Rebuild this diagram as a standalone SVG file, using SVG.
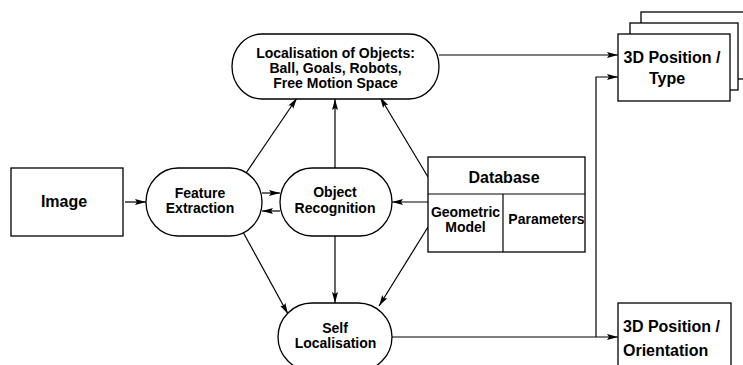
<svg xmlns="http://www.w3.org/2000/svg" width="743" height="365" viewBox="0 0 743 365">
<defs>
<marker id="ah" markerUnits="userSpaceOnUse" markerWidth="12" markerHeight="8" refX="11" refY="3.5" orient="auto">
<path d="M0,0.5 L11,3.5 L0,6.5 L2,3.5 Z" fill="#000"/>
</marker>
<style>
.b{fill:#fff;stroke:#000;stroke-width:1.3}
.c{fill:none;stroke:#000;stroke-width:1.2}
.a{marker-end:url(#ah)}
text{font-family:"Liberation Sans",Arial,sans-serif;font-weight:bold;fill:#000;text-anchor:middle}
.s14{font-size:14px}
.s16{font-size:16px}
</style>
</defs>
<rect width="743" height="365" fill="#fff"/>
<g id="connectors">
<line class="c a" x1="125" y1="202" x2="146" y2="202"/>
<line class="c a" x1="262" y1="193" x2="280" y2="193"/>
<line class="c a" x1="280" y1="211" x2="262" y2="211"/>
<line class="c a" x1="428" y1="202" x2="392" y2="202"/>
<line class="c a" x1="244" y1="176" x2="297" y2="98"/>
<line class="c a" x1="335" y1="168" x2="335" y2="99"/>
<line class="c a" x1="428" y1="177" x2="380" y2="97"/>
<line class="c a" x1="243" y1="232" x2="288" y2="314"/>
<line class="c a" x1="335" y1="236" x2="335" y2="303"/>
<line class="c a" x1="428" y1="227" x2="379" y2="306"/>
<line class="c a" x1="439" y1="55" x2="618" y2="55"/>
<line class="c a" x1="392" y1="337" x2="618" y2="337"/>
<polyline class="c a" points="596,337 596,77 618,77"/>
</g>
<g id="image"><rect class="b" x="11" y="168" width="112" height="68"/><text class="s16" x="64" y="207">Image</text></g>
<g id="feature"><rect class="b" x="146" y="168" width="116" height="68" rx="32" ry="34"/><text class="s14" x="200" y="198">Feature</text><text class="s14" x="200" y="213">Extraction</text></g>
<g id="recognition"><rect class="b" x="280" y="168" width="112" height="68" rx="32" ry="34"/><text class="s14" x="335" y="197">Object</text><text class="s14" x="335" y="213">Recognition</text></g>
<g id="localisation"><rect class="b" x="232" y="34" width="207" height="65" rx="30" ry="32.5"/><text class="s14" x="335.5" y="58">Localisation of Objects:</text><text class="s14" x="335.5" y="73">Ball, Goals, Robots,</text><text class="s14" x="335.5" y="88">Free Motion Space</text></g>
<g id="self"><rect class="b" x="278" y="303" width="114" height="68" rx="34" ry="34"/><text class="s14" x="335" y="333">Self</text><text class="s14" x="335.5" y="348">Localisation</text></g>
<g id="database"><rect class="b" x="428" y="157" width="157" height="95"/><line class="c" x1="428" y1="194" x2="585" y2="194"/><line class="c" x1="503" y1="194" x2="503" y2="252"/><text class="s16" x="504" y="183">Database</text><text class="s14" x="465.5" y="217">Geometric</text><text class="s14" x="465.5" y="232">Model</text><text class="s14" x="546.5" y="224">Parameters</text></g>
<g id="pos-type"><rect class="b" x="641" y="12" width="112" height="67"/><rect class="b" x="630" y="23" width="108" height="67"/><rect class="b" x="618" y="34" width="112" height="67"/><text class="s16" x="672" y="63">3D Position /</text><text class="s16" x="667" y="84">Type</text></g>
<g id="pos-orient"><rect class="b" x="618" y="303" width="113" height="70"/><text class="s16" x="623" y="332" style="text-anchor:start">3D Position /</text><text class="s16" x="623" y="356" style="text-anchor:start">Orientation</text></g>
</svg>
